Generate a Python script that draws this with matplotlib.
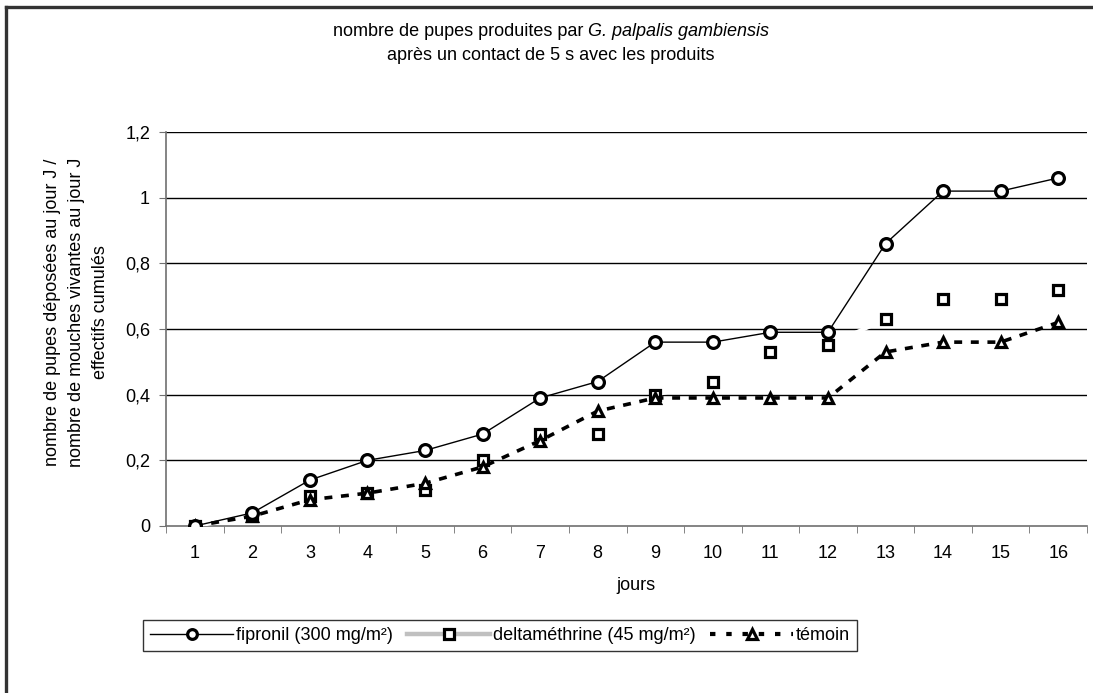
import matplotlib.pyplot as plt
from matplotlib.lines import Line2D
from matplotlib.ticker import FixedLocator, FuncFormatter

plt.rcParams['font.family'] = ['Liberation Sans', 'DejaVu Sans']

# data
jours = list(range(1, 17))
fipronil = [0, 0.04, 0.14, 0.20, 0.23, 0.28, 0.39, 0.44, 0.56, 0.56, 0.59, 0.59, 0.86, 1.02, 1.02, 1.06]
deltamethrine = [0, 0.03, 0.09, 0.10, 0.11, 0.20, 0.28, 0.28, 0.40, 0.44, 0.53, 0.55, 0.63, 0.69, 0.69, 0.72]
temoin = [0, 0.03, 0.08, 0.10, 0.13, 0.18, 0.26, 0.35, 0.39, 0.39, 0.39, 0.39, 0.53, 0.56, 0.56, 0.62]
y_ticks = [0, 0.2, 0.4, 0.6, 0.8, 1.0, 1.2]
ylabel_lines = ['nombre de pupes déposées au jour J /',
                'nombre de mouches vivantes au jour J',
                'effectifs cumulés']

FS = 13
W, H = 1093, 693

fig = plt.figure(figsize=(W/100, H/100), dpi=100)
ax = fig.add_axes([166/W, 1 - 526/H, (1087 - 166)/W, (526 - 132)/H])

# outer frame of the chart area (only top and left edges visible)
fig.add_artist(Line2D([6/W, 6/W], [0, 1 - 7/H], transform=fig.transFigure,
                      color='#333333', lw=2.4))
fig.add_artist(Line2D([6/W, 1], [1 - 7/H, 1 - 7/H], transform=fig.transFigure,
                      color='#333333', lw=2.4))

# gridlines
for y in y_ticks[1:]:
    ax.axhline(y, color='black', lw=1.0, zorder=1)

ax.plot(jours, fipronil, color='black', lw=1.0, marker='o', ms=8.5,
        mfc='white', mec='black', mew=2.3, zorder=4)
ax.plot(jours, deltamethrine, color='white', lw=3.0, marker='s', ms=7.5,
        mfc='white', mec='black', mew=2.3, zorder=3)
ax.plot(jours, temoin, color='black', lw=2.6, ls=(0, (2.2, 2.4)), marker='^', ms=7.5,
        mfc='white', mec='black', mew=2.3, zorder=3)

ax.set_xlim(0.5, 16.5)
ax.set_ylim(0, 1.2)
ax.set_xticks(jours)
ax.xaxis.set_minor_locator(FixedLocator([i + 0.5 for i in range(0, 17)]))
ax.tick_params(axis='x', which='major', length=0, pad=14, labelsize=FS)
ax.tick_params(axis='x', which='minor', length=5, color='#707070', direction='out')
ax.set_yticks(y_ticks)
ax.yaxis.set_major_formatter(FuncFormatter(lambda v, p: ('%g' % v).replace('.', ',')))
ax.tick_params(axis='y', length=5, color='#707070', direction='out', pad=6.5, labelsize=FS)

for s in ['top', 'right']:
    ax.spines[s].set_visible(False)
for s in ['left', 'bottom']:
    ax.spines[s].set_color('#707070')
    ax.spines[s].set_linewidth(1.2)

fig.text(636/W, 1 - 586/H, 'jours', ha='center', va='center', fontsize=FS)
for xpx, line in zip([53, 77, 100], ylabel_lines):
    fig.text(xpx/W, 1 - 312/H, line, rotation=90, ha='center', va='center', fontsize=FS)

# title, with italic species name
tx = 551
t1 = fig.text(tx/W, 1 - 32/H, 'nombre de pupes produites par ', ha='left', va='center', fontsize=FS)
t2 = fig.text(tx/W, 1 - 32/H, 'G. palpalis gambiensis', ha='left', va='center', fontsize=FS, style='italic')
r = fig.canvas.get_renderer()
w1 = t1.get_window_extent(renderer=r).width
w2 = t2.get_window_extent(renderer=r).width
x0 = tx - (w1 + w2) / 2
t1.set_x(x0 / W)
t2.set_x((x0 + w1) / W)
fig.text(tx/W, 1 - 56/H, 'après un contact de 5 s avec les produits',
         ha='center', va='center', fontsize=FS)

handles = [
    Line2D([], [], color='black', lw=1.0, marker='o', ms=7, mfc='white', mec='black', mew=2.3),
    Line2D([], [], color='#c0c0c0', lw=3.2, marker='s', ms=7, mfc='white', mec='black', mew=2.3),
    Line2D([], [], color='black', lw=3.0, ls=(0, (1.3, 2.6)), marker='^', ms=7, mfc='white', mec='black', mew=2.3),
]
labels = ['fipronil (300 mg/m²)', 'deltaméthrine (45 mg/m²)', 'témoin']
leg = fig.legend(handles, labels, loc='upper left', bbox_to_anchor=(143/W, 1 - 620/H),
                 ncol=3, frameon=True, fancybox=False, edgecolor='black', fontsize=FS,
                 handlelength=4.6, handletextpad=0.15, columnspacing=0.8, borderpad=0.4,
                 borderaxespad=0)
leg.get_frame().set_linewidth(1.0)

fig.savefig('out.png', dpi=100)
